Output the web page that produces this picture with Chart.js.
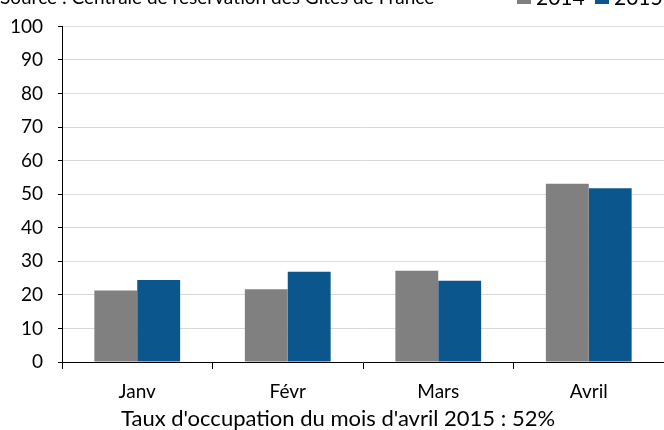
<!DOCTYPE html>
<html>
<head>
<meta charset="utf-8">
<script src="https://cdn.jsdelivr.net/npm/chart.js@4"></script>
<style>
  html, body { margin: 0; padding: 0; background: #fff; }
  #wrap { width: 664px; height: 430px; }
</style>
</head>
<body>
<div id="wrap"><canvas id="occChart" width="664" height="430"></canvas></div>
<script>
// données
const months = ['Janv', 'Févr', 'Mars', 'Avril'];
const values2014 = [21.3, 21.7, 27.2, 53.1];
const values2015 = [24.4, 26.9, 24.2, 51.8];
const yTicks = [0, 10, 20, 30, 40, 50, 60, 70, 80, 90, 100];

const sourceText = 'Source : Centrale de réservation des Gîtes de France';
const titleText = "Taux d'occupation du mois d'avril 2015 : 52%";
const FONT = 'Lato, "Open Sans", sans-serif';

// source + légende en haut (coupées par le bord comme sur l'original)
const headerPlugin = {
    id: 'header',
    afterDraw(chart) {
        const ctx = chart.ctx;
        ctx.save();
        ctx.fillStyle = '#000';
        ctx.textBaseline = 'alphabetic';
        ctx.font = '19px ' + FONT;
        ctx.fillText(sourceText, 0, 4);

        ctx.font = '21px ' + FONT;
        let x = 517;
        chart.data.datasets.forEach(ds => {
            ctx.fillStyle = ds.backgroundColor;
            ctx.fillRect(x, -10, 14, 14);
            ctx.fillStyle = '#000';
            ctx.fillText(ds.label, x + 19, 5);
            x += 78;
        });
        ctx.restore();
    }
};

new Chart(document.getElementById('occChart'), {
    type: 'bar',
    data: {
        labels: months,
        datasets: [
            { label: '2014', data: values2014, backgroundColor: '#808080' },
            { label: '2015', data: values2015, backgroundColor: '#0c568e' }
        ]
    },
    options: {
        responsive: false,
        animation: false,
        categoryPercentage: 0.57,
        barPercentage: 1,
        layout: { padding: { left: 12, right: 0, top: 23, bottom: 0 } },
        plugins: {
            legend: { display: false },
            tooltip: { enabled: false },
            title: {
                display: true,
                position: 'bottom',
                text: titleText,
                color: '#000',
                font: { family: FONT, size: 22, weight: 'normal' },
                padding: { top: 0, bottom: -2.4 }
            }
        },
        scales: {
            x: {
                afterFit: axis => { axis.height = 44; },
                grid: {
                    offset: true,
                    drawOnChartArea: false,
                    color: '#000',
                    tickLength: 7
                },
                border: { color: '#000', width: 1 },
                ticks: {
                    color: '#000',
                    font: { family: FONT, size: 19 },
                    padding: 11
                }
            },
            y: {
                min: 0,
                max: 100,
                afterBuildTicks: axis => { axis.ticks = yTicks.map(v => ({ value: v })); },
                afterFit: axis => { axis.width = 50; },
                grid: {
                    color: '#d9d9d9',
                    tickColor: '#000',
                    tickLength: 4
                },
                border: { color: '#000', width: 1 },
                ticks: {
                    color: '#000',
                    font: { family: FONT, size: 19 },
                    padding: 15
                }
            }
        }
    },
    plugins: [headerPlugin]
});
</script>
</body>
</html>
